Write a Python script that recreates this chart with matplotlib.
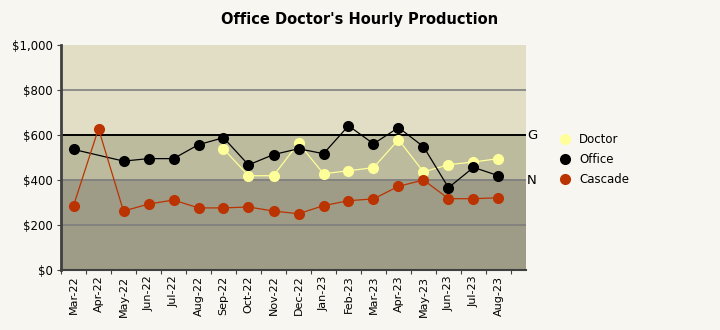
import numpy as np
import matplotlib.pyplot as plt
from matplotlib.lines import Line2D

months = ["Mar-22", "Apr-22", "May-22", "Jun-22", "Jul-22", "Aug-22", "Sep-22",
          "Oct-22", "Nov-22", "Dec-22", "Jan-23", "Feb-23", "Mar-23", "Apr-23",
          "May-23", "Jun-23", "Jul-23", "Aug-23"]
doctor = [None, None, None, None, None, None, 538,
          419, 419, 564, 428, 441, 455, 579,
          436, 468, 480, 495]
office = [536, None, 484, 495, 495, 557, 588,
          467, 513, 539, 517, 641, 561, 633,
          548, 366, 456, 419]
cascade = [286, 628, 262, 293, 311, 276, 276,
           280, 262, 250, 286, 308, 316, 372,
           400, 317, 317, 321]
goal = 600
norm = 400
band_top = 410

bg = "#F8F6F0"
series = [("Doctor", doctor, "#FFFF99"),
          ("Office", office, "#000000"),
          ("Cascade", cascade, "#BB3300")]

fig = plt.figure(figsize=(7.2, 3.3), dpi=100, facecolor=bg)
ax = fig.add_axes([61 / 720, 60 / 330, 465 / 720, 225 / 330])
ax.set_facecolor("#E2DEC6")

ax.set_xlim(-0.5, 18.1)
ax.set_ylim(0, 1000)

# shaded bands
ax.axhspan(0, band_top, color="#9E9B86", zorder=0)
ax.axhspan(band_top, goal, color="#BCBB9E", zorder=0)

for y in [200, 400, 800]:
    ax.axhline(y, color="#7E7E7E", lw=1.2, zorder=1)
ax.axhline(goal, color="#000000", lw=1.4, zorder=1)

for name, vals, color in series:
    x = [i for i, v in enumerate(vals) if v is not None]
    y = [v for v in vals if v is not None]
    ax.plot(x, y, color=color, lw=0.9, marker="o", ms=8,
            markeredgewidth=0, zorder=3, label=name)

ax.text(18.15, goal, "G", va="center", ha="left", fontsize=9.5)
ax.text(18.15, norm, "N", va="center", ha="left", fontsize=9.5)

ax.set_yticks(range(0, 1001, 200))
ax.set_yticklabels(["$0", "$200", "$400", "$600", "$800", "$1,000"], fontsize=8.5)
ax.set_xticks(np.arange(len(months) + 1) - 0.5, minor=False)
ax.set_xticklabels([])
ax.set_xticks(range(len(months)), minor=True)
ax.set_xticklabels(months, minor=True, rotation=90, fontsize=8)
ax.tick_params(axis="x", which="minor", length=0, pad=4)
ax.tick_params(axis="x", which="major", length=3, color="#404040")
ax.tick_params(axis="y", length=3, color="#404040", pad=3)

for s in ["top", "right"]:
    ax.spines[s].set_visible(False)
ax.spines["left"].set_color("#404040")
ax.spines["left"].set_linewidth(2)
ax.spines["bottom"].set_color("#404040")
ax.spines["bottom"].set_linewidth(1.5)

fig.text(0.5, 0.94, "Office Doctor's Hourly Production", ha="center",
         va="center", fontsize=10.5, fontweight="bold")

handles = [Line2D([], [], color=c, marker="o", ls="none", ms=8,
                  markeredgewidth=0) for _, _, c in series]
fig.legend(handles, [n for n, _, _ in series], loc="upper left",
           bbox_to_anchor=(552 / 720, 1 - 127 / 330), frameon=False,
           fontsize=8.5, handlelength=1.2, handletextpad=0.6,
           labelspacing=0.6, borderpad=0)

fig.savefig("out.png", dpi=100, facecolor=bg)
